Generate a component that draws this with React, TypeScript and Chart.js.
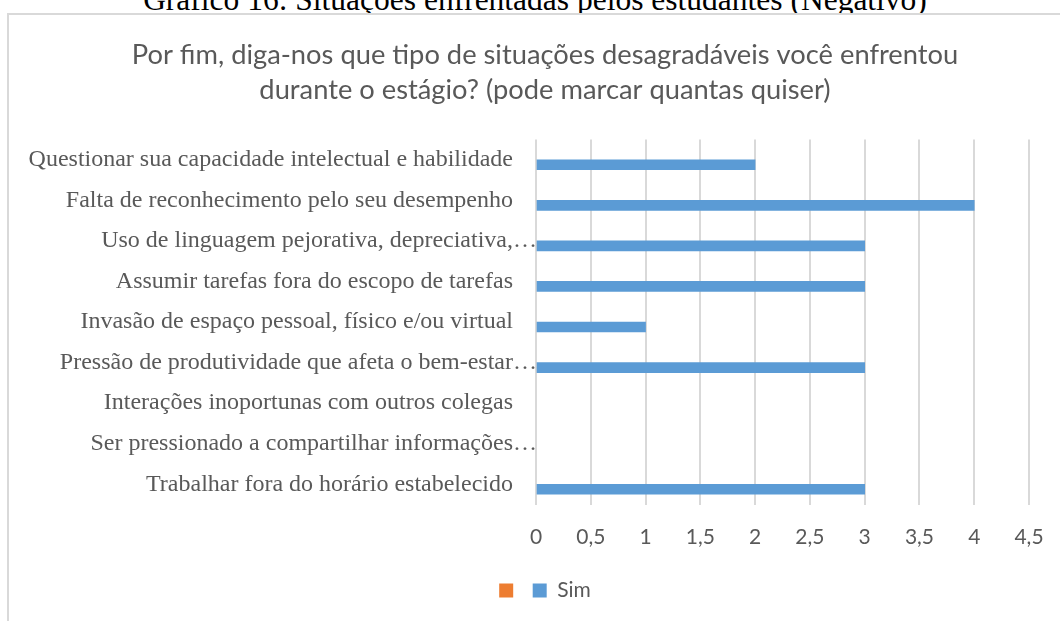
import React, { useEffect, useRef } from "react";
import { Chart, registerables } from "chart.js";

Chart.register(...registerables);

const captionText = "Gráfico 16: Situações enfrentadas pelos estudantes (Negativo)";
const titleLines = [
  "Por fim, diga-nos que tipo de situações desagradáveis você enfrentou",
  "durante o estágio? (pode marcar quantas quiser)",
];
const categories = [
  "Questionar sua capacidade intelectual e habilidade",
  "Falta de reconhecimento pelo seu desempenho",
  "Uso de linguagem pejorativa, depreciativa,…",
  "Assumir tarefas fora do escopo de tarefas",
  "Invasão de espaço pessoal, físico e/ou virtual",
  "Pressão de produtividade que afeta o bem-estar…",
  "Interações inoportunas com outros colegas",
  "Ser pressionado a compartilhar informações…",
  "Trabalhar fora do horário estabelecido",
];
const blankSeriesLabel = "";
const blankSeriesValues = [null, null, null, null, null, null, null, null, null];
const simLabel = "Sim";
const simValues = [2, 4, 3, 3, 1, 3, null, null, 3];
const xMin = 0;
const xMax = 4.5;
const xStep = 0.5;

const GRAY_TEXT = "#595959";
const GRID = "#d9d9d9";

export default function App() {
  const canvasRef = useRef<HTMLCanvasElement | null>(null);

  useEffect(() => {
    const canvas = canvasRef.current;
    if (!canvas) return;
    const chart = new Chart(canvas, {
      type: "bar",
      data: {
        labels: categories,
        datasets: [
          {
            label: blankSeriesLabel,
            data: blankSeriesValues as any,
            backgroundColor: "#ed7d31",
            borderWidth: 0,
            barThickness: 10,
          },
          {
            label: simLabel,
            data: simValues as any,
            backgroundColor: "#5b9bd5",
            borderWidth: 0,
            barThickness: 10,
          },
        ],
      },
      options: {
        indexAxis: "y",
        responsive: false,
        animation: false,
        layout: { padding: 0 },
        plugins: {
          title: {
            display: true,
            text: titleLines,
            color: GRAY_TEXT,
            font: { family: "Lato", size: 27.3, weight: "normal", lineHeight: 35 / 27.3 },
            padding: { top: 22.5, bottom: 32 },
          },
          legend: {
            display: true,
            position: "bottom",
            labels: {
              color: GRAY_TEXT,
              font: { family: "Lato", size: 21 },
              boxWidth: 14,
              boxHeight: 14,
              padding: 9,
            },
          },
          tooltip: { enabled: false },
        },
        scales: {
          x: {
            type: "linear",
            min: xMin,
            max: xMax,
            position: "bottom",
            border: { display: false },
            grid: { color: GRID, lineWidth: 2, drawTicks: false },
            ticks: {
              stepSize: xStep,
              color: GRAY_TEXT,
              font: { family: "Lato", size: 21 },
              padding: 20,
              callback: (v: any) => String(v).replace(".", ","),
            },
            afterFit: (s: any) => {
              s.height = 66.5;
            },
          },
          y: {
            type: "category",
            position: "left",
            border: { display: false },
            grid: { display: false, drawTicks: false },
            ticks: {
              color: GRAY_TEXT,
              font: { family: "'Liberation Serif', 'Times New Roman', serif", size: 24 },
              padding: -1,
              autoSkip: false,
              callback: function (this: any, v: any) {
                const lab = this.getLabelForValue(v) as string;
                return lab.endsWith("…") ? lab : lab + "\u2003";
              },
            },
            afterFit: (s: any) => {
              s.width = 527;
            },
          },
          y2: {
            type: "category",
            axis: "y",
            position: "right",
            border: { display: false },
            grid: { display: false, drawTicks: false },
            ticks: { display: false },
            afterFit: (s: any) => {
              s.width = 52;
            },
          },
        },
      },
    });
    return () => chart.destroy();
  }, []);

  return (
    <div
      style={{
        position: "fixed",
        left: 0,
        top: 0,
        width: 1060,
        height: 621,
        overflow: "hidden",
        background: "#ffffff",
      }}
    >
      <div
        style={{
          position: "absolute",
          left: 0,
          top: -18,
          width: 1070,
          textAlign: "center",
          fontFamily: "'Liberation Serif', 'Times New Roman', serif",
          fontSize: 31.5,
          lineHeight: "36px",
          color: "#000",
          whiteSpace: "nowrap",
        }}
      >
        {captionText}
      </div>
      <div
        style={{
          position: "absolute",
          left: 7,
          top: 13,
          width: 1072,
          height: 640,
          border: `2px solid ${GRID}`,
          background: "#ffffff",
        }}
      >
        <canvas
          ref={canvasRef}
          width={1072}
          height={596}
          style={{ display: "block", width: 1072, height: 596 }}
        />
      </div>
    </div>
  );
}
